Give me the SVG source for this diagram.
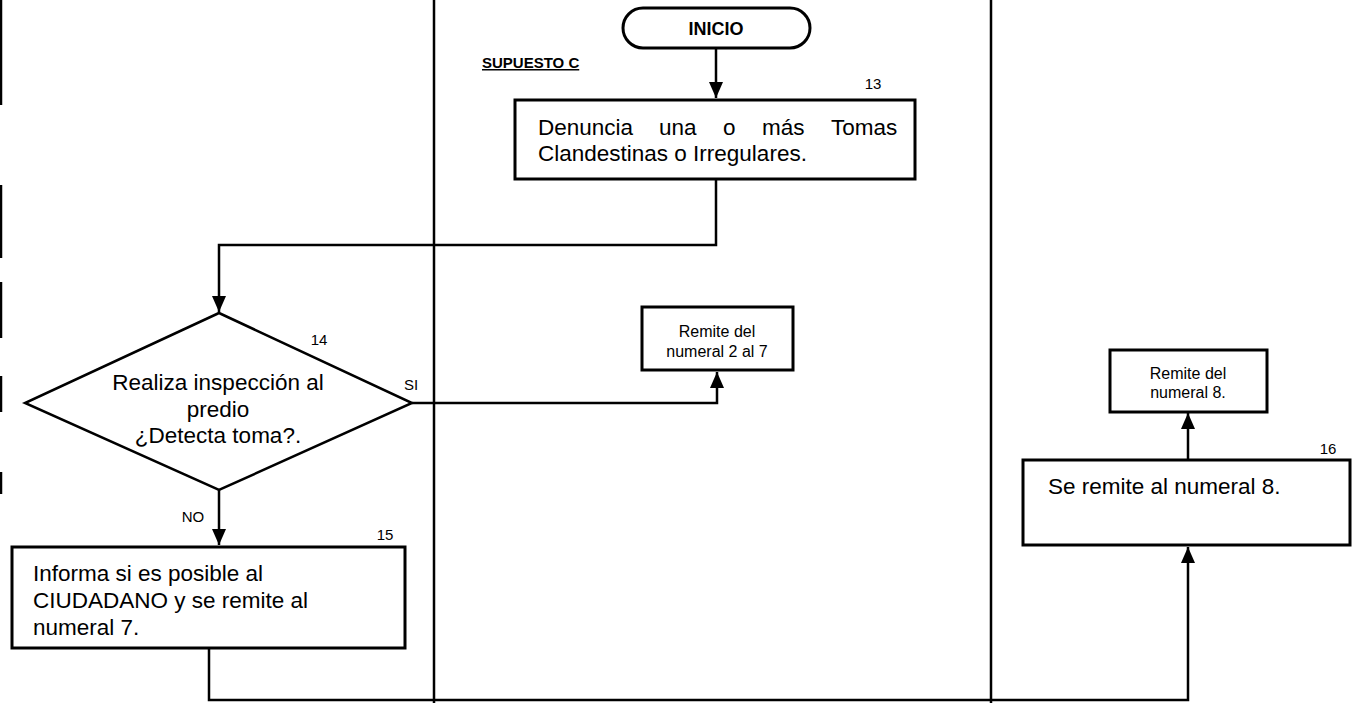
<svg xmlns="http://www.w3.org/2000/svg" width="1357" height="703" viewBox="0 0 1357 703">
<style>
.lane{stroke:#000;stroke-width:2.5;fill:none}
.box{fill:#fff;stroke:#000;stroke-width:3}
.conn{fill:none;stroke:#000;stroke-width:2.5}
.t{font-family:"Liberation Sans",Arial,sans-serif;fill:#000}
.big{font-size:22.5px}
.sm{font-size:16px}
.num{font-size:15px}
</style>
<defs>
<marker id="arr" markerUnits="userSpaceOnUse" markerWidth="16" markerHeight="18" refX="16" refY="7" orient="auto">
<path d="M0,0 L16,7 L0,14 Z" fill="#000"/>
</marker>
</defs>
<rect width="1357" height="703" fill="#fff"/>
<g id="lanes">
<line class="lane" x1="434" y1="0" x2="434" y2="703"/>
<line class="lane" x1="991" y1="0" x2="991" y2="703"/>
<path class="lane" d="M1,0 V105 M1,185 V258 M1,282 V338 M1,376 V412 M1,472 V494"/>
</g>
<g id="connectors">
<path class="conn" d="M716,48 V98" marker-end="url(#arr)"/>
<path class="conn" d="M716,180 V245 H219 V312" marker-end="url(#arr)"/>
<path class="conn" d="M412,403 H717 V372" marker-end="url(#arr)"/>
<path class="conn" d="M219,490 V545" marker-end="url(#arr)"/>
<path class="conn" d="M209,648 V700 H1188 V547" marker-end="url(#arr)"/>
<path class="conn" d="M1188,460 V413" marker-end="url(#arr)"/>
</g>
<g id="label-supuesto">
<text class="t" x="482" y="68" font-size="15" font-weight="bold" text-decoration="underline">SUPUESTO C</text>
</g>
<g id="inicio">
<rect x="623" y="8" width="187" height="40" rx="20" ry="20" class="box" stroke-width="2.5"/>
<text class="t" x="716" y="35" text-anchor="middle" font-size="18" font-weight="bold">INICIO</text>
</g>
<g id="n13">
<rect class="box" x="515" y="100" width="400" height="79"/>
<text class="t num" x="873" y="89" text-anchor="middle">13</text>
<text class="t big" y="135"><tspan x="538">Denuncia</tspan><tspan x="659">una</tspan><tspan x="723">o</tspan><tspan x="762">más</tspan><tspan x="831">Tomas</tspan></text>
<text class="t big" x="538" y="161">Clandestinas o Irregulares.</text>
</g>
<g id="n14">
<polygon points="219,313 412,403 219,490 25,403" fill="#fff" stroke="#000" stroke-width="2.5"/>
<text class="t num" x="319" y="345" text-anchor="middle">14</text>
<text class="t big" x="218" y="390" text-anchor="middle">Realiza inspección al</text>
<text class="t big" x="218" y="417" text-anchor="middle">predio</text>
<text class="t big" x="218" y="443" text-anchor="middle">¿Detecta toma?.</text>
<text class="t num" x="411" y="390" text-anchor="middle">SI</text>
<text class="t num" x="193" y="522" text-anchor="middle">NO</text>
</g>
<g id="ref27">
<rect class="box" x="642" y="307" width="151" height="63"/>
<text class="t sm" x="717" y="337" text-anchor="middle">Remite del</text>
<text class="t sm" x="717" y="357" text-anchor="middle">numeral 2 al 7</text>
</g>
<g id="n15">
<rect class="box" x="12" y="547" width="393" height="101"/>
<text class="t num" x="385" y="540" text-anchor="middle">15</text>
<text class="t big" x="33" y="581">Informa si es posible al</text>
<text class="t big" x="33" y="608">CIUDADANO y se remite al</text>
<text class="t big" x="33" y="635">numeral 7.</text>
</g>
<g id="n16">
<rect class="box" x="1023" y="460" width="327" height="85"/>
<text class="t num" x="1328" y="454" text-anchor="middle">16</text>
<text class="t big" x="1048" y="494">Se remite al numeral 8.</text>
</g>
<g id="ref8">
<rect class="box" x="1110" y="350" width="157" height="62"/>
<text class="t sm" x="1188" y="379" text-anchor="middle">Remite del</text>
<text class="t sm" x="1188" y="398" text-anchor="middle">numeral 8.</text>
</g>
</svg>
